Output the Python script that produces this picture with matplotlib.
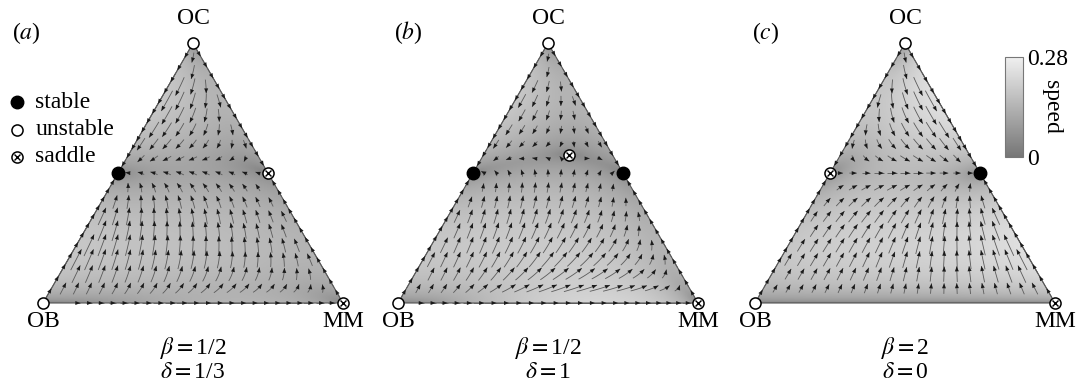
import numpy as np
import matplotlib.pyplot as plt
from matplotlib.colors import LinearSegmentedColormap, PowerNorm
from matplotlib.collections import LineCollection, PolyCollection
from matplotlib.patches import Polygon

plt.rcParams['font.family'] = 'Liberation Serif'
plt.rcParams['mathtext.fontset'] = 'stix'
plt.rcParams['font.size'] = 17

# --- data -------------------------------------------------------------
panel_tags = ['a', 'b', 'c']
beta_vals = [0.5, 0.5, 2.0]
delta_vals = [1 / 3, 1.0, 0.0]
beta_text = ['1/2', '1/2', '2']
delta_text = ['1/3', '1', '0']
corner_names = ['OC', 'OB', 'MM']
# fixed points in barycentric coords (OC, OB, MM)
stable_pts = [[(0.5, 0.5, 0)],
              [(0.5, 0.5, 0), (0.5, 0, 0.5)],
              [(0.5, 0, 0.5)]]
unstable_pts = [[(1, 0, 0), (0, 1, 0)]] * 3
saddle_pts = [[(0.5, 0, 0.5), (0, 0, 1)],
              [(4 / 7, 1 / 7, 2 / 7), (0, 0, 1)],
              [(0.5, 0.5, 0), (0, 0, 1)]]
speed_max = 0.28

H = np.sqrt(3) / 2
PX = 1 / 300  # one pixel in simplex units


def to_xy(p):
    p = np.asarray(p, float)
    return p[..., 0] / 2 + p[..., 2], p[..., 0] * H


def velocity(X, Y, b, d):
    # replicator dynamics, payoff rows OC:[0,1,b] OB:[1,0,-d] MM:[b,0,0]
    oc = Y / H
    mm = X - oc / 2
    ob = 1 - oc - mm
    f_oc = ob + b * mm
    f_ob = oc - d * mm
    f_mm = b * oc
    phi = oc * f_oc + ob * f_ob + mm * f_mm
    d_oc = oc * (f_oc - phi)
    d_mm = mm * (f_mm - phi)
    return d_oc / 2 + d_mm, H * d_oc


def trace(xs, ys, b, d, step, n):
    x, y = xs.copy(), ys.copy()
    path = [np.stack([x, y], -1)]
    for _ in range(n):
        u, v = velocity(x, y, b, d)
        s = np.hypot(u, v) + 1e-12
        xm, ym = x + 0.5 * step * u / s, y + 0.5 * step * v / s
        u, v = velocity(xm, ym, b, d)
        s = np.hypot(u, v) + 1e-12
        x, y = x + step * u / s, y + step * v / s
        path.append(np.stack([x, y], -1))
    return np.stack(path, 1)


def seeds():
    pts = []
    # interior grid
    dy = 0.433 / 9
    for Y in np.arange(0.433 - 9 * dy, 0.84, dy):
        for X in np.arange(0.5 - 12 * 0.0433, 1.0, 0.0433):
            xl, xr = Y / (2 * H), 1 - Y / (2 * H)
            if Y > 5 * PX and X > xl + 6 * PX and X < xr - 6 * PX:
                pts.append((X, Y))
    # edges
    t = np.linspace(0, 1, 27)[1:-1]
    for a, c in [((0, 0), (1, 0)), ((0, 0), (0.5, H)), ((1, 0), (0.5, H))]:
        for ti in t:
            pts.append((a[0] + ti * (c[0] - a[0]), a[1] + ti * (c[1] - a[1])))
    return np.array(pts)


cmap = LinearSegmentedColormap.from_list('speed', ['#767676', '#f0f0f0'])
norm = PowerNorm(gamma=0.38, vmin=0, vmax=speed_max)

fig = plt.figure(figsize=(10.78, 3.85), dpi=100)
ob_px = [43, 398, 755]

for i in range(3):
    b, d = beta_vals[i], delta_vals[i]
    ax = fig.add_axes([(ob_px[i] - 42) / 1078, 0, 360 / 1078, 1])
    ax.set_xlim(-0.14, 1.06)
    ax.set_ylim(-0.2733, 1.01)
    ax.axis('off')

    tri = Polygon([(0, 0), (1, 0), (0.5, H)], closed=True,
                  fill=False, edgecolor='#555555', lw=0.8, zorder=3)
    ax.add_patch(tri)

    gx, gy = np.meshgrid(np.linspace(0, 1, 500), np.linspace(0, H, 440))
    u, v = velocity(gx, gy, b, d)
    spd = np.hypot(u, v)
    inside = (gy <= 2 * H * gx + 1e-9) & (gy <= 2 * H * (1 - gx) + 1e-9)
    panel_max = spd[inside].max()
    im = ax.imshow(spd, origin='lower', extent=[0, 1, 0, H], cmap=cmap,
                   norm=norm, interpolation='bilinear',
                   aspect='auto', zorder=1)
    im.set_clip_path(tri)

    # short streamlets with arrowheads
    sd = seeds()
    u, v = velocity(sd[:, 0], sd[:, 1], b, d)
    s = np.hypot(u, v)
    keep = s > 2e-3
    sd, s = sd[keep], s[keep]
    length = (5 + 20 * np.clip(s / panel_max, 0, 1) ** 1.2) * PX
    n = 10
    fw = trace(sd[:, 0], sd[:, 1], b, d, length / 2 / n, n)
    bw = trace(sd[:, 0], sd[:, 1], b, d, -length / 2 / n, n)
    lines = np.concatenate([bw[:, ::-1], fw[:, 1:]], axis=1)
    ax.add_collection(LineCollection(lines, colors='#5a5a5a', lw=0.6, zorder=4))
    tip = lines[:, -1]
    dvec = lines[:, -1] - lines[:, -3]
    dvec /= np.linalg.norm(dvec, axis=1, keepdims=True) + 1e-12
    perp = np.stack([-dvec[:, 1], dvec[:, 0]], -1)
    hl, hw = 5.0 * PX, 2.0 * PX
    base = tip - dvec * hl
    heads = np.stack([tip, base + perp * hw, base - perp * hw], 1)
    ax.add_collection(PolyCollection(heads, facecolors='#1a1a1a',
                                     edgecolors='none', zorder=5))

    # fixed points
    for p in stable_pts[i]:
        x, y = to_xy(p)
        ax.plot(x, y, 'o', ms=9, color='black', zorder=7, clip_on=False)
    for p in unstable_pts[i]:
        x, y = to_xy(p)
        ax.plot(x, y, 'o', ms=8, mfc='white', mec='black', mew=1.1,
                zorder=7, clip_on=False)
    for p in saddle_pts[i]:
        x, y = to_xy(p)
        ax.plot(x, y, 'o', ms=8, mfc='white', mec='black', mew=1.1,
                zorder=7, clip_on=False)
        ax.plot(x, y, 'x', ms=5, color='black', mew=1.0, zorder=8,
                clip_on=False)

    # labels
    ax.text(0.5, 0.95, corner_names[0], ha='center', va='center')
    ax.text(0.0, -0.063, corner_names[1], ha='center', va='center')
    ax.text(1.0, -0.063, corner_names[2], ha='center', va='center')
    ax.text(0.5, -0.15, r'$\beta=$' + beta_text[i], ha='center', va='center')
    ax.text(0.5, -0.23, r'$\delta=$' + delta_text[i], ha='center', va='center')
    tag_x = [-0.057, 0.035, 0.037][i]
    ax.text(tag_x, 0.90, '($' + panel_tags[i] + '$)', ha='center', va='center')

    if i == 0:
        ly = [0.67, 0.577, 0.487]
        ax.plot(-0.087, ly[0], 'o', ms=9, color='black', clip_on=False)
        ax.plot(-0.087, ly[1], 'o', ms=8, mfc='white', mec='black', mew=1.1,
                clip_on=False)
        ax.plot(-0.087, ly[2], 'o', ms=8, mfc='white', mec='black', mew=1.1,
                clip_on=False)
        ax.plot(-0.087, ly[2], 'x', ms=5, color='black', mew=1.0, clip_on=False)
        for yy, lab in zip(ly, ['stable', 'unstable', 'saddle']):
            ax.text(-0.025, yy, lab, ha='left', va='center')

cax = fig.add_axes([1005 / 1078, (385 - 157) / 385, 18 / 1078, 100 / 385])
cb = fig.colorbar(im, cax=cax, ticks=[0, speed_max])
cb.ax.set_yticklabels(['0', '0.28'])
cb.ax.tick_params(length=0, pad=3, labelsize=17)
cb.outline.set_edgecolor('#777777')
fig.text(1051 / 1078, 1 - 107 / 385, 'speed', rotation=270,
         ha='center', va='center')

fig.savefig('out.png', dpi=100)
